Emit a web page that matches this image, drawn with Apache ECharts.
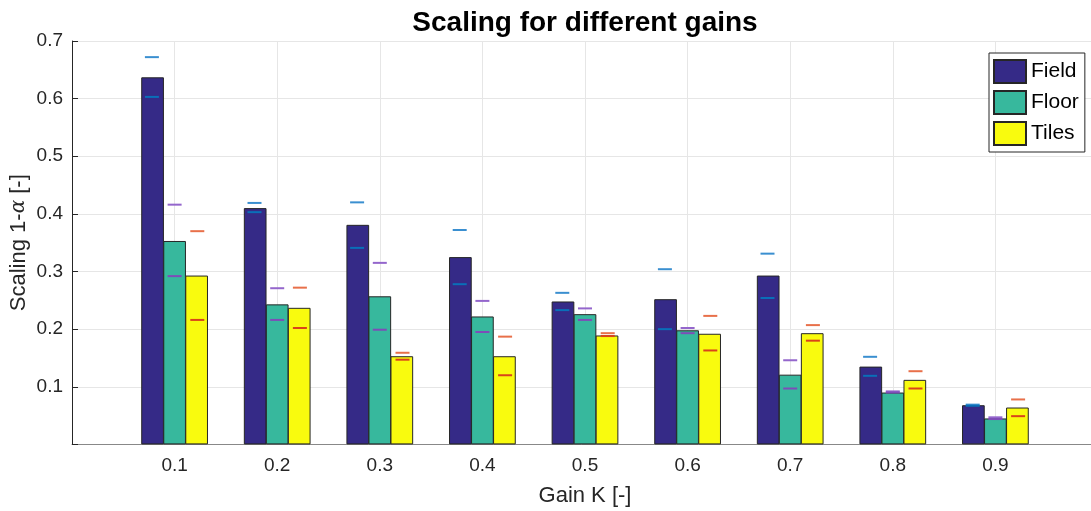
<!DOCTYPE html>
<html>
<head>
<meta charset="utf-8">
<script src="https://cdn.jsdelivr.net/npm/echarts@6/dist/echarts.min.js"></script>
<style>
html,body{margin:0;padding:0;background:#fff;}
#chart{width:1091px;height:511px;}
</style>
</head>
<body>
<div id="chart"></div>
<script>
// ---- data ----
const gains = [0.1, 0.2, 0.3, 0.4, 0.5, 0.6, 0.7, 0.8, 0.9];
const xTickLabels = ['0.1','0.2','0.3','0.4','0.5','0.6','0.7','0.8','0.9'];
const yTickLabels = ['0.1','0.2','0.3','0.4','0.5','0.6','0.7'];
const seriesNames = ['Field', 'Floor', 'Tiles'];

const fieldVals = [0.637, 0.410, 0.381, 0.325, 0.248, 0.252, 0.293, 0.135, 0.068];
const floorVals = [0.353, 0.243, 0.257, 0.222, 0.226, 0.198, 0.121, 0.090, 0.045];
const tilesVals = [0.293, 0.237, 0.153, 0.153, 0.189, 0.192, 0.193, 0.112, 0.064];

const fieldUpper = [0.672, 0.419, 0.420, 0.372, 0.263, 0.304, 0.331, 0.152, 0.069];
const fieldLower = [0.603, 0.403, 0.341, 0.278, 0.233, 0.200, 0.254, 0.119, 0.067];
const floorUpper = [0.416, 0.271, 0.315, 0.249, 0.236, 0.202, 0.146, 0.092, 0.047];
const floorLower = [0.292, 0.216, 0.199, 0.195, 0.216, 0.193, 0.097, 0.090, 0.044];
const tilesUpper = [0.370, 0.272, 0.159, 0.187, 0.193, 0.223, 0.207, 0.127, 0.078];
const tilesLower = [0.216, 0.202, 0.147, 0.120, 0.188, 0.163, 0.180, 0.097, 0.049];

// ---- styles ----
const barColors = ['#352a87', '#37b89d', '#f9fb0e'];
const upperColors = ['#3a8fd0', '#9466cc', '#e8704a'];
const lowerColors = ['#0a6fb8', '#7e4cb8', '#d9441a'];
const barW = 22.7;
const offsets = [-barW, 0, barW];
const FONT = 'Liberation Sans, Arial, sans-serif';

const values = [fieldVals, floorVals, tilesVals];
const uppers = [fieldUpper, floorUpper, tilesUpper];
const lowers = [fieldLower, floorLower, tilesLower];

const series = [];
seriesNames.forEach((name, i) => {
  series.push({
    name: name,
    type: 'bar',
    barWidth: barW,
    barGap: '-3%',
    data: gains.map((g, j) => [g, values[i][j]]),
    itemStyle: { color: barColors[i], borderColor: '#262626', borderWidth: 1 },
    emphasis: { disabled: true },
    z: 2
  });
});
seriesNames.forEach((name, i) => {
  [[uppers[i], upperColors[i]], [lowers[i], lowerColors[i]]].forEach(([arr, col]) => {
    series.push({
      type: 'scatter',
      data: gains.map((g, j) => [g, arr[j]]),
      symbol: 'rect',
      symbolSize: [14, 2],
      symbolOffset: [offsets[i], 0],
      itemStyle: { color: col, opacity: 1 },
      emphasis: { disabled: true },
      silent: true,
      z: 5
    });
  });
});

const chart = echarts.init(document.getElementById('chart'), null, { renderer: 'canvas' });
chart.setOption({
  animation: false,
  backgroundColor: '#ffffff',
  textStyle: { fontFamily: FONT },
  title: {
    text: 'Scaling for different gains',
    left: 580, top: 4, textAlign: 'center',
    textStyle: { fontFamily: FONT, fontSize: 28, fontWeight: 'bold', color: '#000' }
  },
  legend: {
    data: seriesNames,
    orient: 'vertical',
    left: 989, top: 53,
    backgroundColor: '#fff',
    borderColor: '#262626', borderWidth: 1,
    padding: [6, 6, 6, 4],
    itemWidth: 32, itemHeight: 23, itemGap: 6,
    icon: 'rect',
    textStyle: { fontFamily: FONT, fontSize: 21, color: '#000' }
  },
  grid: { left: 72, top: 41, width: 1026, height: 403.4, containLabel: false, outerBoundsMode: 'none' },
  xAxis: {
    type: 'value',
    min: 0, max: 1, interval: 0.1,
    name: 'Gain K [-]',
    nameLocation: 'middle', nameGap: 41, nameMoveOverlap: false,
    nameTextStyle: { fontFamily: FONT, fontSize: 22, color: '#262626' },
    axisLine: { show: true, lineStyle: { color: '#888', width: 1 } },
    axisTick: { show: false },
    axisLabel: {
      fontFamily: FONT, fontSize: 19, color: '#262626', margin: 12,
      formatter: v => {
        const idx = gains.findIndex(g => Math.abs(g - v) < 1e-6);
        return idx >= 0 ? xTickLabels[idx] : '';
      }
    },
    splitLine: { show: true, lineStyle: { color: '#e6e6e6', width: 1 } }
  },
  yAxis: {
    type: 'value',
    min: 0, max: 0.7, interval: 0.1,
    name: '{a|Scaling 1-}{b|α}{a| [-]}',
    nameLocation: 'middle', nameGap: 42, nameRotate: 90, nameMoveOverlap: false,
    nameTextStyle: {
      rich: {
        a: { fontFamily: FONT, fontSize: 22, color: '#262626' },
        b: { fontFamily: 'DejaVu Serif, serif', fontStyle: 'italic', fontSize: 20, color: '#262626' }
      }
    },
    axisLine: { show: true, lineStyle: { color: '#262626', width: 1 } },
    axisTick: { show: true, inside: true, length: 6, lineStyle: { color: '#262626' } },
    axisLabel: {
      fontFamily: FONT, fontSize: 19, color: '#262626', margin: 9,
      formatter: v => {
        const idx = Math.round(v * 10) - 1;
        return idx >= 0 && idx < yTickLabels.length ? yTickLabels[idx] : '';
      }
    },
    splitLine: { show: true, lineStyle: { color: '#e6e6e6', width: 1 } }
  },
  series: series
});
</script>
</body>
</html>
